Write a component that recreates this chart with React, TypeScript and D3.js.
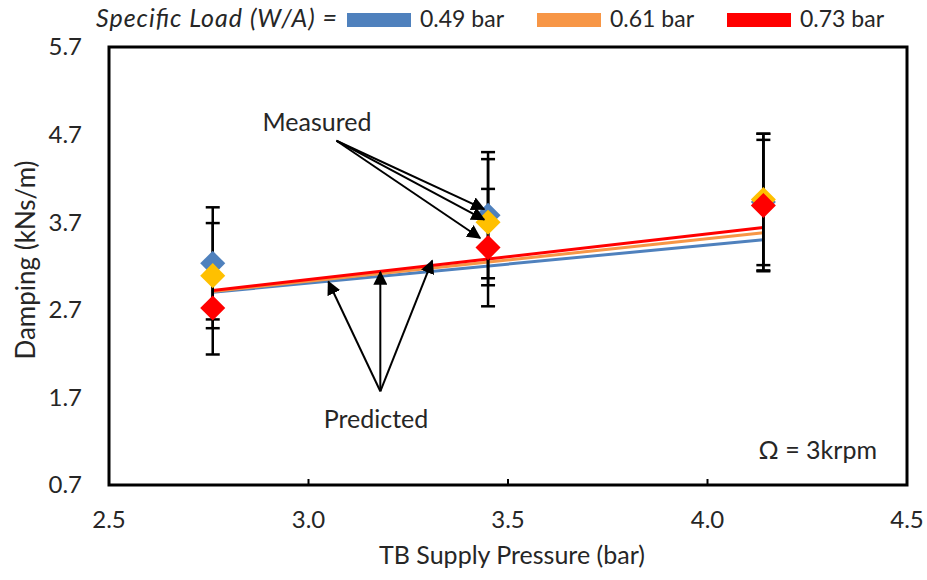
import * as d3 from "d3";
import React from "react";

// measured points, x = TB supply pressure (bar)
const pressures = [2.76, 3.45, 4.14];
const loadLabels = ["0.49 bar", "0.61 bar", "0.73 bar"];
const measured049 = [3.23, 3.78, 3.93];
const measured061 = [3.09, 3.7, 3.96];
const measured073 = [2.72, 3.41, 3.89];
const err049 = [0.64, 0.72, 0.78];
const err061 = [0.6, 0.72, 0.75];
const err073 = [0.53, 0.67, 0.75];

// predicted lines (straight, ends at first/last pressure)
const predX = [2.76, 4.14];
const pred049 = [2.9, 3.5];
const pred061 = [2.91, 3.58];
const pred073 = [2.92, 3.64];

const xTicks = [2.5, 3.0, 3.5, 4.0, 4.5];
const yTicks = [0.7, 1.7, 2.7, 3.7, 4.7, 5.7];

const lineColors = ["#4F81BD", "#F79646", "#FF0000"];
const markerColors = ["#4F81BD", "#FFC000", "#FF0000"];

const W = 927;
const H = 580;
const FONT = "Lato, 'Open Sans', sans-serif";
const INK = "#262626";

export default function App() {
    const x = d3.scaleLinear().domain([2.5, 4.5]).range([109, 907]);
    const y = d3.scaleLinear().domain([0.7, 5.7]).range([485, 47]);

    const series = [
        { vals: measured049, err: err049, pred: pred049 },
        { vals: measured061, err: err061, pred: pred061 },
        { vals: measured073, err: err073, pred: pred073 },
    ];

    const line = d3
        .line<number>()
        .x((_, i) => x(predX[i]))
        .y((d) => y(d));

    const diamond = d3.symbol().type(d3.symbolDiamond2).size(400);

    // annotation arrows, in data units
    const measuredFrom = [3.07, 4.63];
    const measuredTo = [
        [3.44, 3.85],
        [3.44, 3.73],
        [3.43, 3.52],
    ];
    const predictedFrom = [3.18, 1.77];
    const predictedTo = [
        [3.05, 3.02],
        [3.18, 3.13],
        [3.31, 3.26],
    ];

    const arrow = (from: number[], to: number[], key: string) => (
        <line
            key={key}
            x1={x(from[0])}
            y1={y(from[1])}
            x2={x(to[0])}
            y2={y(to[1])}
            stroke="#000"
            strokeWidth={2}
            markerEnd="url(#head)"
        />
    );

    return (
        <svg width={W} height={H} style={{ position: "absolute", left: 0, top: 0, background: "#fff" }}>
            <defs>
                <marker id="head" viewBox="0 0 10 10" refX="9" refY="5" markerWidth="7" markerHeight="7" orient="auto">
                    <path d="M0,0 L10,5 L0,10 z" fill="#000" />
                </marker>
            </defs>

            {/* legend */}
            <g fontFamily={FONT} fontSize={23} fill={INK}>
                <text x={96} y={27} fontStyle="italic" fontSize={25} textLength={241}>
                    Specific Load (W/A) =
                </text>
                {loadLabels.map((lab, i) => (
                    <g key={lab} transform={`translate(${347 + i * 190},0)`}>
                        <rect x={0} y={13} width={64} height={14} fill={lineColors[i]} />
                        <text x={73} y={27}>
                            {lab}
                        </text>
                    </g>
                ))}
            </g>

            {/* predicted lines */}
            {series.map((s, i) => (
                <path key={"p" + i} d={line(s.pred) || ""} fill="none" stroke={lineColors[i]} strokeWidth={3} />
            ))}

            {/* error bars */}
            {series.map((s, i) =>
                s.vals.map((v, j) => {
                    const cx = x(pressures[j]);
                    return (
                        <g key={`e${i}-${j}`} stroke="#000" strokeWidth={2.5}>
                            <line x1={cx} x2={cx} y1={y(v + s.err[j])} y2={y(v - s.err[j])} />
                            <line x1={cx - 7} x2={cx + 7} y1={y(v + s.err[j])} y2={y(v + s.err[j])} />
                            <line x1={cx - 7} x2={cx + 7} y1={y(v - s.err[j])} y2={y(v - s.err[j])} />
                        </g>
                    );
                })
            )}

            {/* measured markers */}
            {series.map((s, i) =>
                s.vals.map((v, j) => (
                    <path
                        key={`m${i}-${j}`}
                        d={diamond() || ""}
                        transform={`translate(${x(pressures[j])},${y(v)})`}
                        fill={markerColors[i]}
                    />
                ))
            )}

            {/* frame */}
            <rect
                x={x(2.5)}
                y={y(5.7)}
                width={x(4.5) - x(2.5)}
                height={y(0.7) - y(5.7)}
                fill="none"
                stroke="#000"
                strokeWidth={3}
            />
            {xTicks.slice(1, -1).map((t) => (
                <line key={"xt" + t} x1={x(t)} x2={x(t)} y1={y(0.7)} y2={y(0.7) - 6} stroke="#000" strokeWidth={2} />
            ))}

            {/* tick labels */}
            <g fontFamily={FONT} fontSize={24} fill={INK}>
                {xTicks.map((t) => (
                    <text key={"xl" + t} x={x(t)} y={y(0.7) + 43} textAnchor="middle">
                        {d3.format(".1f")(t)}
                    </text>
                ))}
                {yTicks.map((t) => (
                    <text key={"yl" + t} x={82} y={y(t)} dy="0.35em" textAnchor="end">
                        {d3.format(".1f")(t)}
                    </text>
                ))}
                <text x={512} y={564} textAnchor="middle" fontSize={25}>
                    TB Supply Pressure (bar)
                </text>
                <text transform={`translate(35,260) rotate(-90)`} textAnchor="middle" fontSize={26}>
                    Damping (kNs/m)
                </text>
            </g>

            {/* annotations */}
            {measuredTo.map((t, i) => arrow(measuredFrom, t, "ma" + i))}
            {predictedTo.map((t, i) => arrow(predictedFrom, t, "pa" + i))}
            <g fontFamily={FONT} fontSize={25} fill={INK}>
                <text x={317} y={131} textAnchor="middle">
                    Measured
                </text>
                <text x={376} y={428} textAnchor="middle">
                    Predicted
                </text>
                <text x={877} y={459} textAnchor="end">
                    Ω = 3krpm
                </text>
            </g>
        </svg>
    );
}
